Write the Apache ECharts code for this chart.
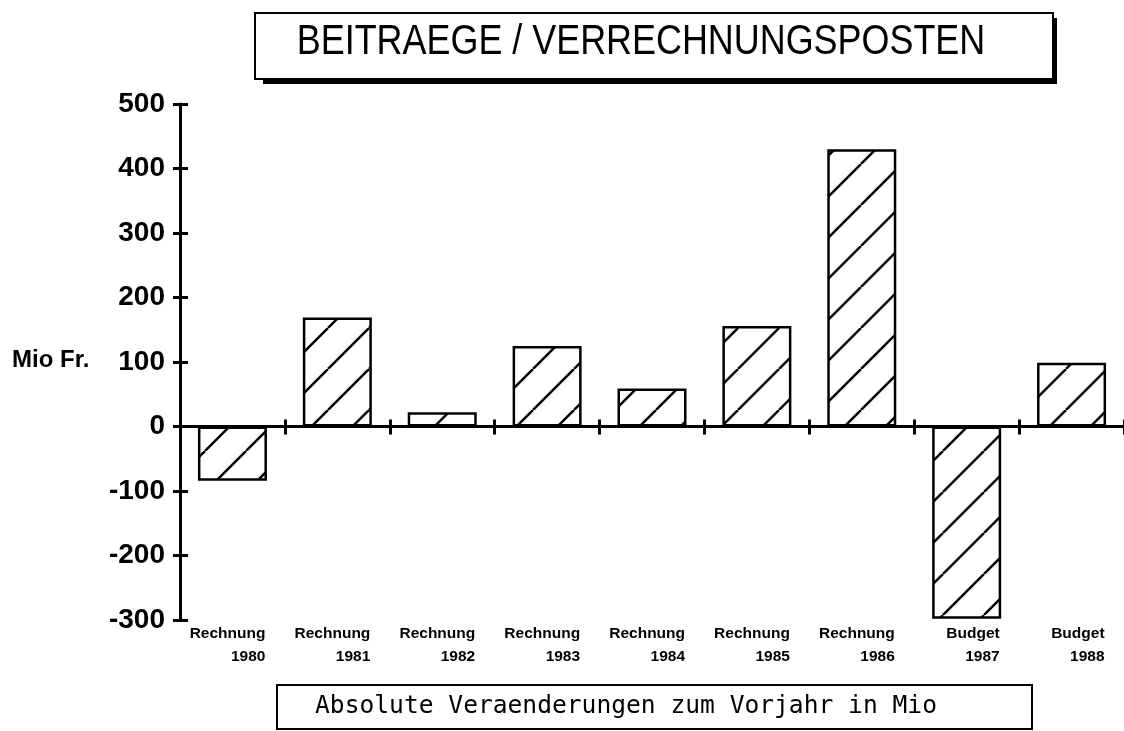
<!DOCTYPE html>
<html>
<head>
<meta charset="utf-8">
<script src="https://cdn.jsdelivr.net/npm/echarts@6/dist/echarts.min.js"></script>
<style>
  html, body { margin: 0; padding: 0; background: #fff; }
  #chart { width: 1124px; height: 731px; }
</style>
</head>
<body>
<div id="chart"></div>
<script>
// values (Mio Fr.)
var kinds = ['Rechnung', 'Rechnung', 'Rechnung', 'Rechnung', 'Rechnung', 'Rechnung', 'Rechnung', 'Budget', 'Budget']
var years = ['1980', '1981', '1982', '1983', '1984', '1985', '1986', '1987', '1988']
var values = [-84, 169, 22, 125, 59, 156, 430, -298, 99]
var yMin = -300
var yMax = 500
var yStep = 100

var categories = kinds.map(function(k, i) { return k + '\n' + years[i] })

// diagonal hatch for the bars
function hatch() {
  var s = 41
  var c = document.createElement('canvas')
  c.width = s
  c.height = s
  var ctx = c.getContext('2d')
  ctx.fillStyle = '#fff'
  ctx.fillRect(0, 0, s, s)
  ctx.strokeStyle = '#000'
  ctx.lineWidth = 2.5
  for (var k = -1; k <= 1; k++) {
    ctx.beginPath()
    ctx.moveTo(k * s, s)
    ctx.lineTo(k * s + s, 0)
    ctx.stroke()
  }
  return c
}

var sans = '"Liberation Sans", Arial, sans-serif'
var black = '#000'

var chart = echarts.init(document.getElementById('chart'))
chart.setOption({
  backgroundColor: '#fff',
  animation: false,
  grid: [
    { left: 180, top: 104, width: 948, height: 516 },
    { left: 180, top: 104, width: 948, height: 516 }
  ],
  xAxis: [
    {
      // zero line, ticks down
      type: 'category', gridIndex: 0, data: categories, position: 'bottom',
      axisLine: { onZero: true, lineStyle: { color: black, width: 3 } },
      axisTick: { show: true, length: 8, lineStyle: { color: black, width: 3 } },
      axisLabel: { show: false }
    },
    {
      // ticks up on the zero line
      type: 'category', gridIndex: 1, data: categories, position: 'top',
      axisLine: { show: false, onZero: true },
      axisTick: { show: true, length: 7, lineStyle: { color: black, width: 3 } },
      axisLabel: { show: false }
    },
    {
      // labels under the plot
      type: 'category', gridIndex: 1, data: categories, position: 'bottom',
      axisLine: { show: false, onZero: false },
      axisTick: { show: false },
      axisLabel: {
        show: true,
        margin: 2,
        interval: 0,
        formatter: function(v) {
          var p = v.split('\n')
          return '{a|' + p[0] + '}\n{a|' + p[1] + '}'
        },
        rich: {
          a: {
            width: 66, align: 'right', fontFamily: sans, fontWeight: 'bold',
            fontSize: 15.5, lineHeight: 23, color: black
          }
        }
      }
    }
  ],
  yAxis: [
    {
      type: 'value', gridIndex: 0, min: yMin, max: yMax, interval: yStep,
      splitLine: { show: false },
      axisLine: { show: true, lineStyle: { color: black, width: 3 } },
      axisTick: { show: true, length: 7, lineStyle: { color: black, width: 3 } },
      axisLabel: {
        margin: 15, color: black, fontFamily: sans, fontWeight: 'bold', fontSize: 28
      }
    },
    {
      type: 'value', gridIndex: 1, min: yMin, max: yMax, interval: yStep,
      splitLine: { show: false },
      axisLine: { show: false },
      axisTick: { show: true, inside: true, length: 8, lineStyle: { color: black, width: 3 } },
      axisLabel: { show: false }
    }
  ],
  series: [{
    type: 'bar',
    xAxisIndex: 0,
    yAxisIndex: 0,
    data: values,
    barWidth: 69,
    itemStyle: {
      color: { image: hatch(), repeat: 'repeat' },
      borderColor: black,
      borderWidth: 2.5
    }
  }],
  graphic: [
    // title box with shadow
    { type: 'rect', shape: { x: 255, y: 13, width: 798, height: 66 },
      style: { fill: '#fff', stroke: black, lineWidth: 2 } },
    { type: 'rect', shape: { x: 263, y: 79, width: 794, height: 5 }, style: { fill: black } },
    { type: 'rect', shape: { x: 1052, y: 18, width: 5, height: 66 }, style: { fill: black } },
    { type: 'text', x: 641, y: 42, scaleX: 0.855,
      style: { text: 'BEITRAEGE / VERRECHNUNGSPOSTEN', fill: black,
        font: '42px ' + sans, textAlign: 'center', textVerticalAlign: 'middle' } },
    // y unit
    { type: 'text', x: 12, y: 360,
      style: { text: 'Mio Fr.', fill: black,
        font: 'bold 24px ' + sans, textAlign: 'left', textVerticalAlign: 'middle' } },
    // bottom box
    { type: 'rect', shape: { x: 277, y: 685, width: 755, height: 44 },
      style: { fill: '#fff', stroke: black, lineWidth: 2 } },
    { type: 'text', x: 626, y: 707,
      style: { text: 'Absolute Veraenderungen zum Vorjahr in Mio', fill: black,
        font: '24.6px "DejaVu Sans Mono", monospace', textAlign: 'center', textVerticalAlign: 'middle' } }
  ]
})
</script>
</body>
</html>
